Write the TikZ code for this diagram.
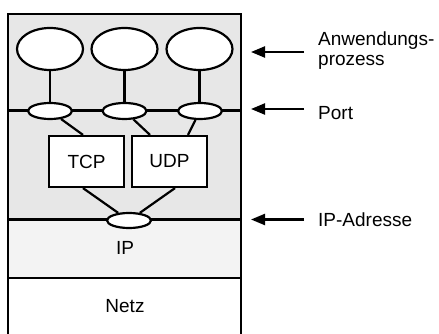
\documentclass[tikz,border=0pt]{standalone}
\usepackage{fontspec}
\setmainfont{Liberation Sans}
\usetikzlibrary{shapes.geometric,arrows.meta,calc}

\definecolor{layerA}{RGB}{231,231,231}
\definecolor{layerB}{RGB}{243,243,243}

\tikzset{
  thick line/.style={line width=2.2pt},
  proc/.style={ellipse, draw, thick line, fill=white, inner sep=0pt,
               minimum width=66pt, minimum height=42pt},
  portell/.style={ellipse, draw, thick line, fill=white, inner sep=0pt,
                  minimum width=44pt, minimum height=16pt},
  proto/.style={rectangle, draw, thick line, fill=white, inner sep=0pt,
                minimum width=75pt, minimum height=51pt},
  lbl/.style={anchor=west, inner sep=0pt, align=left},
  pointer/.style={line width=2.2pt, -{Triangle[length=14pt,width=11pt]}},
  every node/.style={font=\fontsize{19}{20}\selectfont}
}

\begin{document}
\begin{tikzpicture}[x=1pt,y=-1pt]
  \useasboundingbox (0,0) rectangle (439,334);

  % layer shading
  \fill[layerA] (8,14) rectangle (241,219.5);
  \fill[layerB] (8,219.5) rectangle (241,278);

  % outer frame (open at the bottom) and layer boundaries
  \draw[thick line] (8,335) -- (8,14) -- (241,14) -- (241,335);
  \draw[thick line] (8,110.5) -- (241,110.5);
  \draw[thick line] (8,219.5) -- (241,219.5);
  \draw[thick line] (8,278) -- (241,278);

  % application processes
  \node[proc] (e1) at (50,49) {};
  \node[proc] (e2) at (124.5,49) {};
  \node[proc] (e3) at (199.5,49) {};

  % ports
  \node[portell] (p1) at (50,111) {};
  \node[portell] (p2) at (124.5,111) {};
  \node[portell] (p3) at (200,111) {};

  % transport protocols
  \node[proto] (tcp) at (86.5,161.5) {TCP};
  \node[proto] (udp) at (169.5,161.5) {UDP};

  % IP address
  \node[portell, minimum height=15pt] (ip) at (129,220.5) {};

  % layer names
  \node (iptext) at (125,248) {IP};
  \node (netz) at (125,306.5) {Netz};

  % connections
  \draw[thick line] (e1.south) -- (e1.south |- p1.north);
  \draw[thick line] (e2.south) -- (e2.south |- p2.north);
  \draw[thick line] (e3.south) -- (e3.south |- p3.north);
  \draw[thick line] (p1) -- ([xshift=-3.5pt]tcp.north);
  \draw[thick line] (p2) -- ([xshift=-19.5pt]udp.north);
  \draw[thick line] (p3) -- ([xshift=18.5pt]udp.north);
  \draw[thick line] ([xshift=-3.5pt]tcp.south) -- (ip);
  \draw[thick line] ([xshift=5.5pt]udp.south) -- (ip);

  % side labels with pointers
  \node[lbl] (la) at (318,51) {Anwendungs-\\prozess};
  \node[lbl] (lp) at (318,113) {Port};
  \node[lbl] (li) at (318,220) {IP-Adresse};

  \coordinate (ta) at (251,52);
  \coordinate (tp) at (251,109);
  \coordinate (ti) at (251,219.5);
  \draw[pointer] (304,52) -- (ta);
  \draw[pointer] (304,109) -- (tp);
  \draw[pointer] (304,219.5) -- (ti);
\end{tikzpicture}
\end{document}
